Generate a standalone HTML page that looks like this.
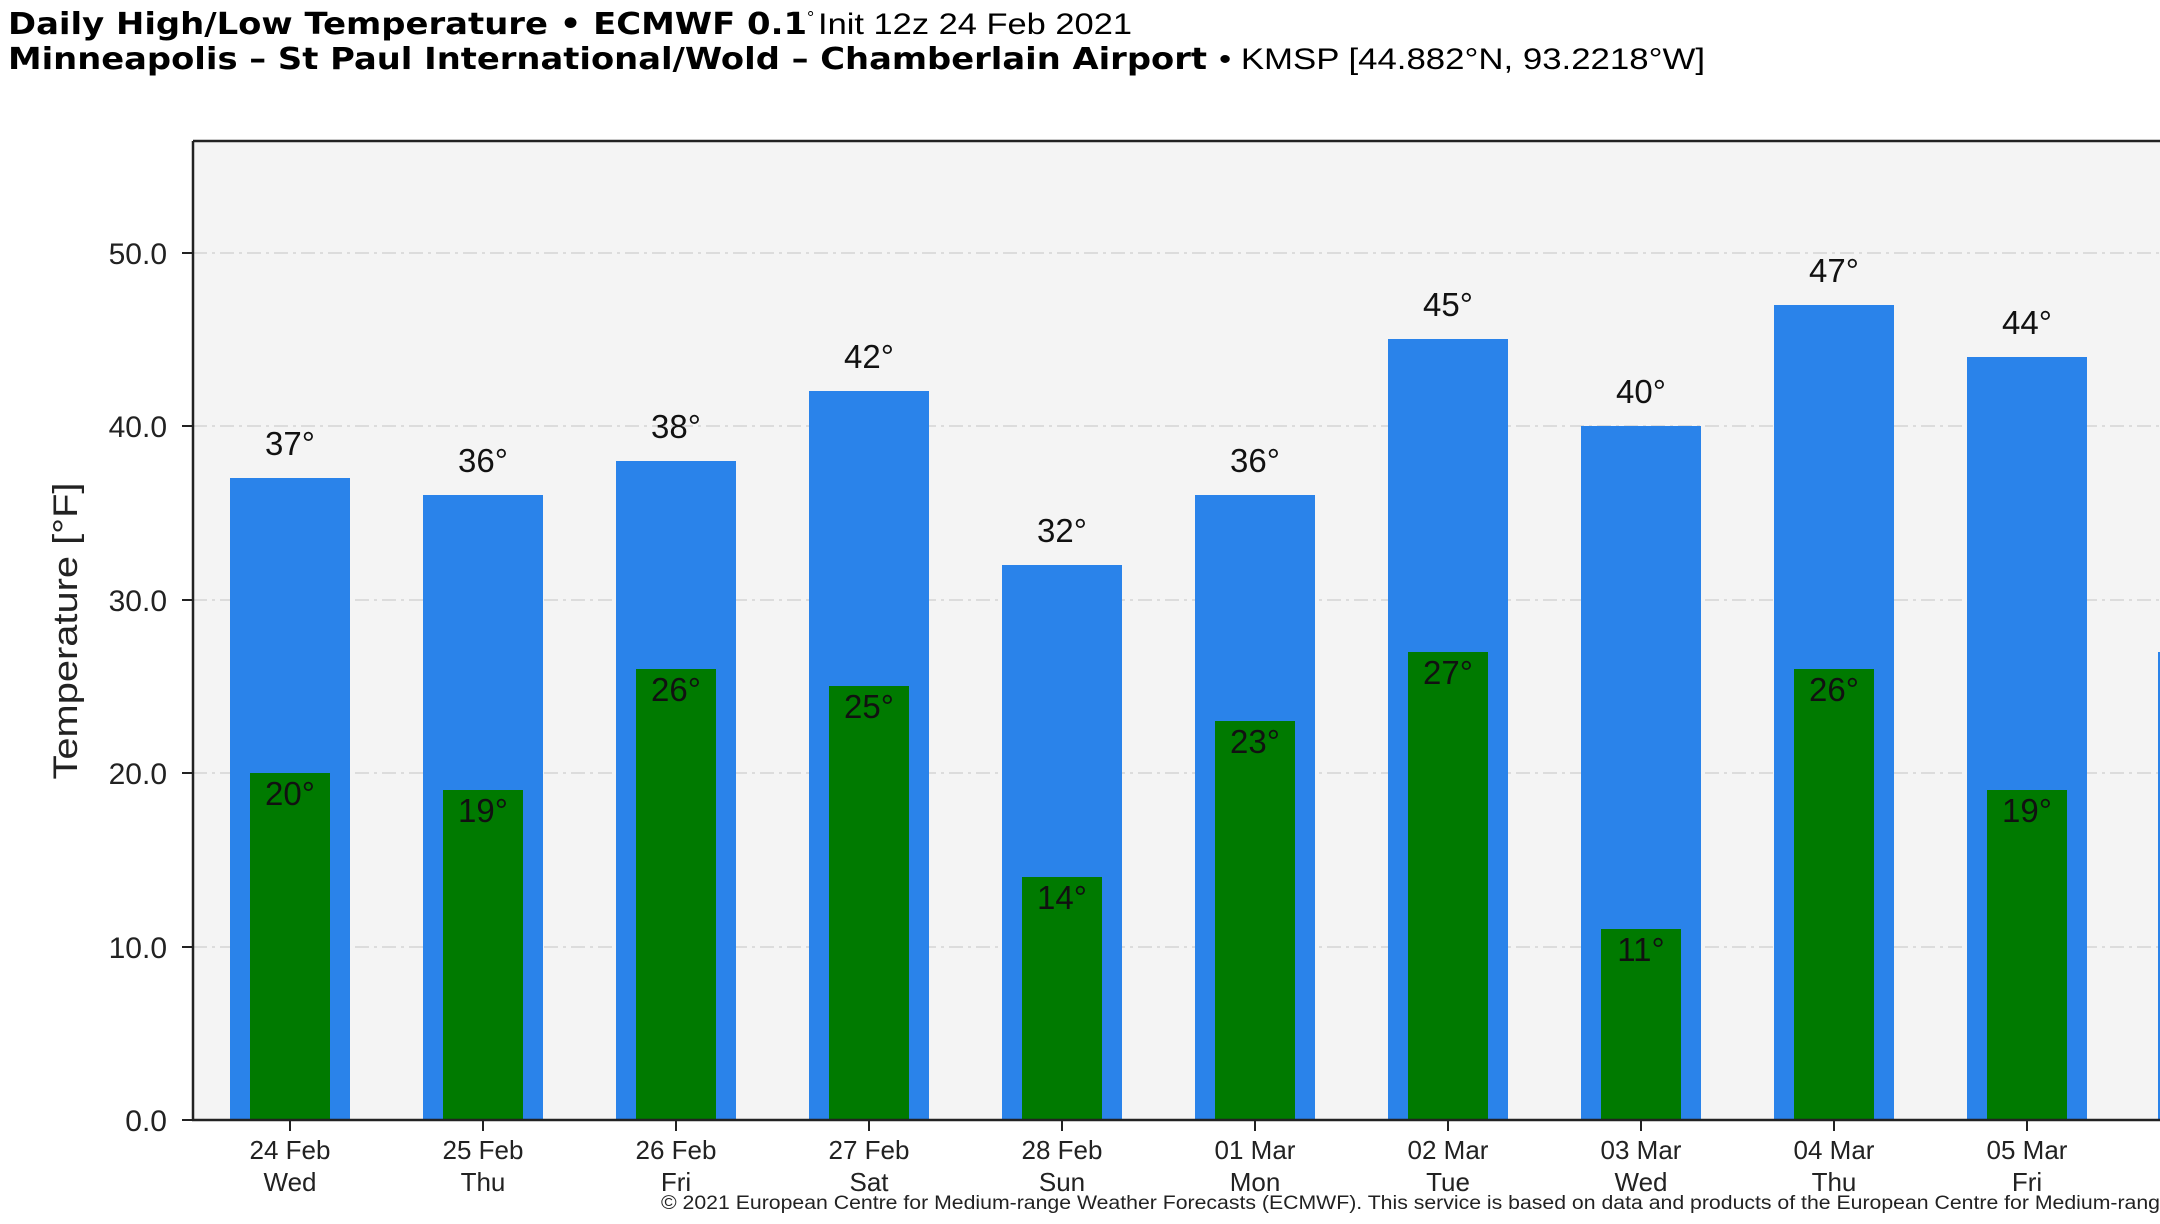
<!DOCTYPE html>
<html><head><meta charset="utf-8"><style>
html,body{margin:0;padding:0;background:#fff;}
svg{display:block;}
text{font-family:"Liberation Sans","DejaVu Sans",sans-serif;}
</style></head><body>
<svg width="2160" height="1224" viewBox="0 0 2160 1224" xmlns="http://www.w3.org/2000/svg">
<rect width="2160" height="1224" fill="#fff"/>
<text x="8" y="34" font-size="30" fill="#000"><tspan font-weight="bold" font-family="DejaVu Sans" textLength="799" lengthAdjust="spacingAndGlyphs">Daily High/Low Temperature • ECMWF 0.1</tspan><tspan font-size="18" dy="-10">°</tspan><tspan dy="10" x="818" textLength="314" lengthAdjust="spacingAndGlyphs">Init 12z 24 Feb 2021</tspan></text>
<text x="8" y="69" font-size="30" fill="#000"><tspan font-weight="bold" font-family="DejaVu Sans" textLength="1199" lengthAdjust="spacingAndGlyphs">Minneapolis – St Paul International/Wold – Chamberlain Airport</tspan><tspan x="1219" textLength="486" lengthAdjust="spacingAndGlyphs">• KMSP [44.882°N, 93.2218°W]</tspan></text>
<rect x="193" y="142" width="1967" height="978" fill="#f4f4f4"/>
<g stroke="#dcdcdc" stroke-width="2" stroke-dasharray="14,5,3,5">
<line x1="193" y1="253" x2="2160" y2="253"/>
<line x1="193" y1="426" x2="2160" y2="426"/>
<line x1="193" y1="600" x2="2160" y2="600"/>
<line x1="193" y1="773" x2="2160" y2="773"/>
<line x1="193" y1="947" x2="2160" y2="947"/>
</g>
<g fill="#2a83ea">
<rect x="230" y="478" width="120" height="642"/>
<rect x="423" y="495" width="120" height="625"/>
<rect x="616" y="461" width="120" height="659"/>
<rect x="809" y="391" width="120" height="729"/>
<rect x="1002" y="565" width="120" height="555"/>
<rect x="1195" y="495" width="120" height="625"/>
<rect x="1388" y="339" width="120" height="781"/>
<rect x="1581" y="426" width="120" height="694"/>
<rect x="1774" y="305" width="120" height="815"/>
<rect x="1967" y="357" width="120" height="763"/>
<rect x="2158" y="652" width="120" height="468"/>
</g>
<g fill="#007a00">
<rect x="250" y="773" width="80" height="347"/>
<rect x="443" y="790" width="80" height="330"/>
<rect x="636" y="669" width="80" height="451"/>
<rect x="829" y="686" width="80" height="434"/>
<rect x="1022" y="877" width="80" height="243"/>
<rect x="1215" y="721" width="80" height="399"/>
<rect x="1408" y="652" width="80" height="468"/>
<rect x="1601" y="929" width="80" height="191"/>
<rect x="1794" y="669" width="80" height="451"/>
<rect x="1987" y="790" width="80" height="330"/>
</g>
<g font-size="33" fill="#111" text-anchor="middle">
<text x="290" y="455">37°</text><text x="483" y="472">36°</text><text x="676" y="438">38°</text><text x="869" y="368">42°</text><text x="1062" y="542">32°</text><text x="1255" y="472">36°</text><text x="1448" y="316">45°</text><text x="1641" y="403">40°</text><text x="1834" y="282">47°</text><text x="2027" y="334">44°</text>
<text x="290" y="805">20°</text><text x="483" y="822">19°</text><text x="676" y="701">26°</text><text x="869" y="718">25°</text><text x="1062" y="909">14°</text><text x="1255" y="753">23°</text><text x="1448" y="684">27°</text><text x="1641" y="961">11°</text><text x="1834" y="701">26°</text><text x="2027" y="822">19°</text>
</g>
<line x1="193" y1="141" x2="2160" y2="141" stroke="#222" stroke-width="2.5"/>
<line x1="193" y1="141" x2="193" y2="1121" stroke="#222" stroke-width="2.5"/>
<line x1="192" y1="1120" x2="2160" y2="1120" stroke="#222" stroke-width="2.5"/>
<g stroke="#222" stroke-width="2">
<line x1="182" y1="253" x2="193" y2="253"/><line x1="182" y1="426" x2="193" y2="426"/><line x1="182" y1="600" x2="193" y2="600"/><line x1="182" y1="773" x2="193" y2="773"/><line x1="182" y1="947" x2="193" y2="947"/><line x1="182" y1="1120" x2="193" y2="1120"/>
<line x1="290" y1="1120" x2="290" y2="1131"/><line x1="483" y1="1120" x2="483" y2="1131"/><line x1="676" y1="1120" x2="676" y2="1131"/><line x1="869" y1="1120" x2="869" y2="1131"/><line x1="1062" y1="1120" x2="1062" y2="1131"/><line x1="1255" y1="1120" x2="1255" y2="1131"/><line x1="1448" y1="1120" x2="1448" y2="1131"/><line x1="1641" y1="1120" x2="1641" y2="1131"/><line x1="1834" y1="1120" x2="1834" y2="1131"/><line x1="2027" y1="1120" x2="2027" y2="1131"/>
</g>
<g font-size="30" fill="#222" text-anchor="end">
<text x="167" y="264">50.0</text><text x="167" y="437">40.0</text><text x="167" y="611">30.0</text><text x="167" y="784">20.0</text><text x="167" y="958">10.0</text><text x="167" y="1131">0.0</text>
</g>
<text transform="translate(77,631) rotate(-90)" font-size="34" fill="#222" text-anchor="middle" textLength="297" lengthAdjust="spacingAndGlyphs">Temperature [°F]</text>
<g font-size="26" fill="#222" text-anchor="middle">
<text x="290" y="1159">24 Feb</text><text x="290" y="1191">Wed</text>
<text x="483" y="1159">25 Feb</text><text x="483" y="1191">Thu</text>
<text x="676" y="1159">26 Feb</text><text x="676" y="1191">Fri</text>
<text x="869" y="1159">27 Feb</text><text x="869" y="1191">Sat</text>
<text x="1062" y="1159">28 Feb</text><text x="1062" y="1191">Sun</text>
<text x="1255" y="1159">01 Mar</text><text x="1255" y="1191">Mon</text>
<text x="1448" y="1159">02 Mar</text><text x="1448" y="1191">Tue</text>
<text x="1641" y="1159">03 Mar</text><text x="1641" y="1191">Wed</text>
<text x="1834" y="1159">04 Mar</text><text x="1834" y="1191">Thu</text>
<text x="2027" y="1159">05 Mar</text><text x="2027" y="1191">Fri</text>
</g>
<text x="661" y="1209" font-size="19" fill="#222" textLength="1499" lengthAdjust="spacingAndGlyphs">© 2021 European Centre for Medium-range Weather Forecasts (ECMWF). This service is based on data and products of the European Centre for Medium-rang</text>
</svg>
</body></html>
